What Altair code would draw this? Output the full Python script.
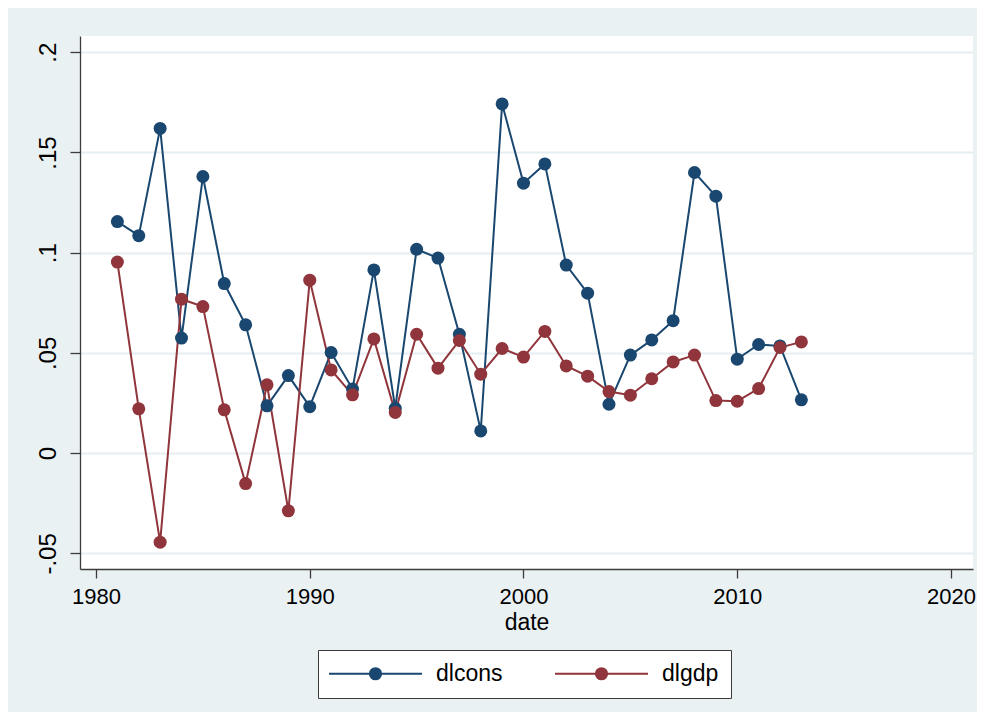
import altair as alt
import pandas as pd

# ---- data ----
years = list(range(1981, 2014))
dlcons = [0.1155, 0.1085, 0.1620, 0.0574, 0.1380, 0.0846, 0.0640, 0.0236, 0.0387, 0.0232,
          0.0502, 0.0320, 0.0914, 0.0224, 0.1017, 0.0973, 0.0593, 0.0111, 0.1742, 0.1347,
          0.1443, 0.0938, 0.0798, 0.0244, 0.0489, 0.0565, 0.0661, 0.1400, 0.1282, 0.0469,
          0.0542, 0.0535, 0.0266]
dlgdp = [0.0953, 0.0221, -0.0444, 0.0768, 0.0731, 0.0216, -0.0152, 0.0341, -0.0288, 0.0863,
         0.0415, 0.0291, 0.0570, 0.0203, 0.0593, 0.0424, 0.0562, 0.0394, 0.0522, 0.0479,
         0.0607, 0.0435, 0.0384, 0.0307, 0.0289, 0.0371, 0.0455, 0.0489, 0.0262, 0.0259,
         0.0322, 0.0527, 0.0555]
series_names = ["dlcons", "dlgdp"]
series_colors = ["#1A476F", "#90353B"]
x_ticks = [1980, 1990, 2000, 2010, 2020]
y_ticks = [-0.05, 0, 0.05, 0.1, 0.15, 0.2]
y_tick_labels = ["-.05", "0", ".05", ".1", ".15", ".2"]
x_title = "date"

df = pd.DataFrame({
    "date": years + years,
    "value": dlcons + dlgdp,
    "series": [series_names[0]] * len(years) + [series_names[1]] * len(years),
})

# label expression for the Stata-style y tick labels
label_expr = "''"
for v, lab in reversed(list(zip(y_ticks, y_tick_labels))):
    label_expr = f"abs(datum.value - ({v})) < 1e-9 ? '{lab}' : ({label_expr})"

# legend symbol: a line with a filled dot (concentric rings) in the middle.
# symbol unit = dot radius (symbolSize = dot diameter^2); path drawn to the right.
dot_d = 13.0
unit = dot_d / 2
line_px = 93.0
x0 = -1.0 - 6.0 / unit
x1 = x0 + line_px / unit
cx = x0 + (line_px / 2) / unit
path = f"M{x0:.4f},0L{x1:.4f},0"
for rpx in [0.6, 2.0, 3.4, 4.8, 5.6]:
    r = rpx / unit
    path += (f"M{cx + r:.4f},0A{r:.4f},{r:.4f} 0 1,1 {cx - r:.4f},0"
             f"A{r:.4f},{r:.4f} 0 1,1 {cx + r:.4f},0")

FONT = "Liberation Sans"

x_enc = alt.X(
    "date:Q",
    scale=alt.Scale(domain=[1979.251, 2021.03], nice=False, zero=False),
    axis=alt.Axis(values=x_ticks, format="d", title=x_title, grid=False,
                  labelFontSize=22, titleFontSize=23, labelPadding=8, titlePadding=4,
                  tickSize=9, labelFlush=False),
)
y_enc = alt.Y(
    "value:Q",
    scale=alt.Scale(domain=[-0.0578, 0.2081], nice=False, zero=False),
    axis=alt.Axis(values=y_ticks, labelExpr=label_expr, title=None, grid=True,
                  labelAngle=270, labelAlign="center", labelBaseline="alphabetic",
                  labelFontSize=24, labelPadding=15, tickSize=10, labelFlush=False),
)

lines = alt.Chart(df).mark_line(strokeWidth=2).encode(
    x=x_enc,
    y=y_enc,
    color=alt.Color(
        "series:N",
        scale=alt.Scale(domain=series_names, range=series_colors),
        legend=alt.Legend(
            orient="none", legendX=238, legendY=614, direction="horizontal",
            title=None, labelFontSize=23, labelFont=FONT, labelColor="black",
            symbolType=path, symbolSize=dot_d * dot_d, symbolStrokeWidth=2,
            symbolOpacity=1, labelOffset=line_px + 3 - dot_d, columnPadding=47,
            padding=12, strokeColor="#3a3a3a", fillColor="white", cornerRadius=0,
        ),
    ),
)

points = alt.Chart(df).mark_circle(size=169, opacity=1).encode(
    x=x_enc,
    y=y_enc,
    fill=alt.Fill("series:N", scale=alt.Scale(domain=series_names, range=series_colors),
                  legend=None),
)

chart = (
    alt.layer(lines, points)
    .properties(
        width=893,
        height=533,
        autosize=alt.AutoSizeParams(type="none"),
        padding={"left": 72, "top": 28, "right": 4, "bottom": 143},
        background="#EAF1F3",
    )
    .configure_view(fill="white", stroke=None)
    .configure_axis(
        labelFont=FONT, titleFont=FONT, labelColor="black", titleColor="black",
        titleFontWeight="normal", domainColor="#3c3c3c", tickColor="#3c3c3c",
        domainWidth=1.3, tickWidth=1.3, gridColor="#E6EEF1", gridWidth=1.8,
    )
)

chart.save("out.html", embed_options={"renderer": "svg", "actions": False})
